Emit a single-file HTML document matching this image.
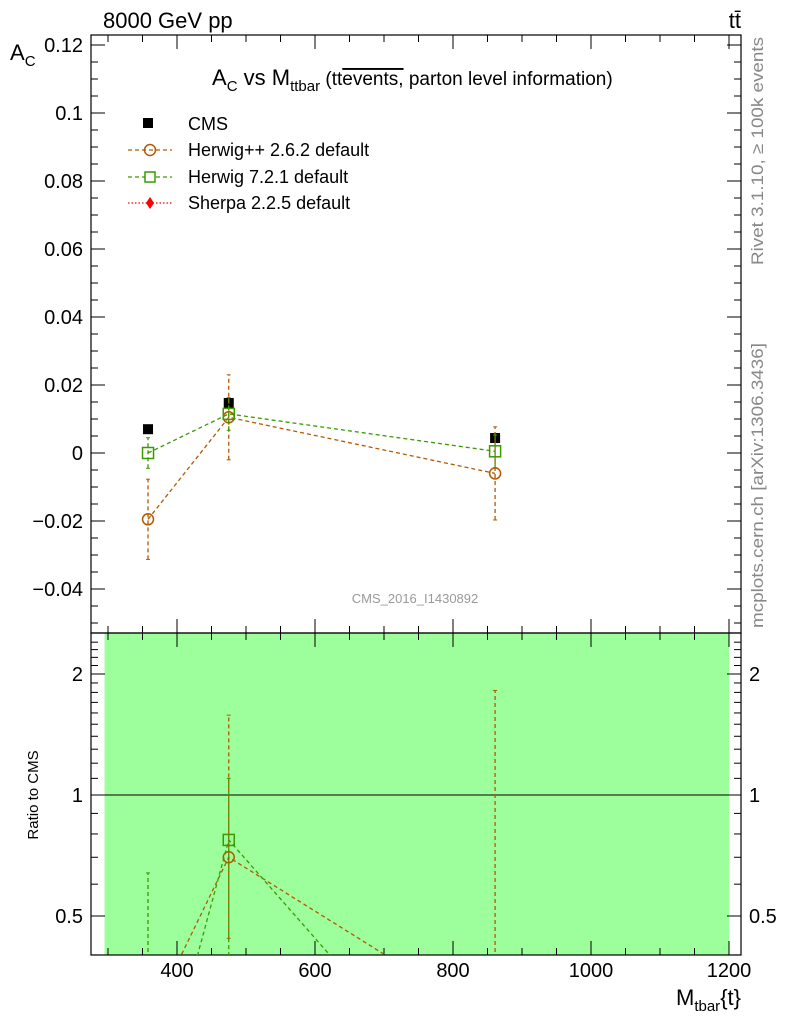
<!DOCTYPE html>
<html><head><meta charset="utf-8"><style>
html,body{margin:0;background:#fff;overflow:hidden;width:786px;height:1024px}
svg{display:block;font-family:"Liberation Sans",sans-serif}
</style></head><body>
<svg id="s" width="786" height="1024" viewBox="0 0 786 1024">
<text x="103" y="28" font-size="22">8000 GeV pp</text>
<text x="741" y="28" font-size="22" text-anchor="end">tt̄</text>
<text x="10" y="60" font-size="22">A<tspan font-size="15" dy="6">C</tspan></text>
<text x="212" y="85" font-size="22">A<tspan font-size="15" dy="6">C</tspan><tspan dy="-6"> vs M</tspan><tspan font-size="15" dy="6">ttbar</tspan><tspan dy="-6" font-size="19"> (tt</tspan><tspan font-size="19" text-decoration="overline">events,</tspan><tspan font-size="19"> parton level information)</tspan></text>
<text x="763" y="265" font-size="17" fill="#888" textLength="228" lengthAdjust="spacingAndGlyphs" transform="rotate(-90 763 265)">Rivet 3.1.10, ≥ 100k events</text>
<text x="763" y="628" font-size="17" fill="#888" textLength="285" lengthAdjust="spacingAndGlyphs" transform="rotate(-90 763 628)">mcplots.cern.ch [arXiv:1306.3436]</text>
<text x="415" y="603" font-size="13" fill="#999" text-anchor="middle">CMS_2016_I1430892</text>
<text x="38" y="795" font-size="15" text-anchor="middle" transform="rotate(-90 38 795)">Ratio to CMS</text>
<text x="741" y="1005" font-size="22" text-anchor="end">M<tspan font-size="15" dy="6">tbar</tspan><tspan dy="-6">{t}</tspan></text>
<g>
<rect x="143" y="118" width="10" height="10" fill="#000"/>
<text x="188" y="130" font-size="18">CMS</text>
<line x1="128" y1="150" x2="172" y2="150" stroke="#b35900" stroke-dasharray="4,3" stroke-width="1.3"/>
<circle cx="150" cy="150" r="5.5" fill="none" stroke="#b35900" stroke-width="1.5"/>
<text x="188" y="156" font-size="18">Herwig++ 2.6.2 default</text>
<line x1="128" y1="177" x2="172" y2="177" stroke="#3a9a00" stroke-dasharray="4,3" stroke-width="1.3"/>
<rect x="145" y="172" width="10" height="10" fill="#fff" stroke="#3a9a00" stroke-width="1.5"/>
<text x="188" y="183" font-size="18">Herwig 7.2.1 default</text>
<line x1="128" y1="203" x2="172" y2="203" stroke="red" stroke-dasharray="1.5,2" stroke-width="1.3"/>
<path d="M150 197 L154 203 L150 209 L146 203Z" fill="red"/>
<text x="188" y="209" font-size="18">Sherpa 2.2.5 default</text>
</g>
<g id="g"></g>
</svg>
<script>
const xVals=[358,475,861];
const cms=[0.0070,0.0147,0.0044];
const cmsErr=[0.0010,0.0012,0.0010];
const hpp=[-0.0195,0.0105,-0.0060];
const hppErr=[0.0118,0.0125,0.0137];
const h7=[0.0000,0.0115,0.0005];
const h7Err=[0.0045,0.0048,0.0048];
const hppRatio=[0.27,0.70,0.27];
const hppRatioLo=[0.1,0.44,0.1];
const hppRatioHi=[0.1,1.58,1.82];
const h7Ratio=[0.14,0.773,0.136];
const h7RatioLo=[0.1,0.3,0.1];
const h7RatioHi=[0.64,1.1,0.1];
const yTicks=[-0.04,-0.02,0,0.02,0.04,0.06,0.08,0.1,0.12];
const yTickLabels=["−0.04","−0.02","0","0.02","0.04","0.06","0.08","0.1","0.12"];
const rTicks=[0.5,1,2];
const xTicks=[400,600,800,1000,1200];
const NS='http://www.w3.org/2000/svg';
const g=document.getElementById('g');
const L=91,R=741,T=35,M=633,B=955;
const X=v=>177+(v-400)*0.69;
const Y=v=>453-v*3400;
const RY=v=>795-Math.log2(v)*121;
function el(t,a,name){const e=document.createElementNS(NS,t);for(const k in a)e.setAttribute(k,a[k]);


g.appendChild(e);return e;}
const cp=el('clipPath',{id:'rc'},'ratio-clip');const cr=document.createElementNS(NS,'rect');
cr.setAttribute('x',L);cr.setAttribute('y',M);cr.setAttribute('width',R-L);cr.setAttribute('height',B-M);cp.appendChild(cr);
const cp2=el('clipPath',{id:'mc'},'main-clip');const cr2=document.createElementNS(NS,'rect');
cr2.setAttribute('x',L);cr2.setAttribute('y',T);cr2.setAttribute('width',R-L);cr2.setAttribute('height',M-T);cp2.appendChild(cr2);
el('rect',{x:X(295),y:M,width:X(1200)-X(295),height:B-M,fill:'#9cff9c'},'cms-uncertainty-band');
el('line',{x1:L,x2:R,y1:RY(1),y2:RY(1),stroke:'#000','stroke-width':1},'ratio-unity-line');
el('rect',{x:L,y:T,width:R-L,height:M-T,fill:'none',stroke:'#000','stroke-width':1.2},'main-frame');
el('rect',{x:L,y:M,width:R-L,height:B-M,fill:'none',stroke:'#000','stroke-width':1.2},'ratio-frame');
for(let v=-0.05;v<=0.1226;v+=0.005){const y=Y(v);if(y<T||y>M)continue;const maj=Math.abs(Math.round(v*50)-v*50)<1e-6;const len=maj?14:7;
el('line',{x1:L,x2:L+len,y1:y,y2:y,stroke:'#000'},'y-tick');el('line',{x1:R,x2:R-len,y1:y,y2:y,stroke:'#000'},'y-tick-right');}
yTicks.forEach((v,i)=>{const t=el('text',{x:L-8,y:Y(v)+7,'font-size':20,'text-anchor':'end'},'y-tick-label');t.textContent=yTickLabels[i];});
for(let v=0.4;v<=2.5;v+=0.1){const y=RY(v);if(y<M||y>B)continue;const maj=rTicks.some(r=>Math.abs(r-v)<1e-6);const len=maj?14:7;
el('line',{x1:L,x2:L+len,y1:y,y2:y,stroke:'#000'},'ratio-tick');el('line',{x1:R,x2:R-len,y1:y,y2:y,stroke:'#000'},'ratio-tick-right');}
rTicks.forEach(v=>{let t=el('text',{x:L-8,y:RY(v)+7,'font-size':20,'text-anchor':'end'},'ratio-tick-label');t.textContent=v;
t=el('text',{x:R+8,y:RY(v)+7,'font-size':20},'ratio-tick-label-right');t.textContent=v;});
for(let v=300;v<=1200;v+=50){const x=X(v);const maj=v%200==0;const len=maj?14:7;
el('line',{x1:x,x2:x,y1:B,y2:B-len,stroke:'#000'},'x-tick');el('line',{x1:x,x2:x,y1:M,y2:M-len,stroke:'#000'},'x-tick-main');
el('line',{x1:x,x2:x,y1:M,y2:M+len,stroke:'#000'},'x-tick-ratio-top');el('line',{x1:x,x2:x,y1:T,y2:T+len,stroke:'#000'},'x-tick-top');}
xTicks.forEach(v=>{const t=el('text',{x:X(v),y:B+22,'font-size':20,'text-anchor':'middle'},'x-tick-label');t.textContent=v;});
function series(vals,errs,col,mark,name,clip,yf,lo,hi){
 const pts=vals.map((v,i)=>X(xVals[i])+','+yf(v)).join(' ');
 el('polyline',{points:pts,fill:'none',stroke:col,'stroke-dasharray':'4,3','stroke-width':1.3,'clip-path':clip},name+'-line');
 vals.forEach((v,i)=>{const x=X(xVals[i]);const y1=lo?yf(lo[i]):yf(v-errs[i]);const y2=hi?yf(hi[i]):yf(v+errs[i]);
  el('line',{x1:x,x2:x,y1:y1,y2:y2,stroke:col,'stroke-dasharray':'4,3','stroke-width':1.3,'clip-path':clip},name+'-errorbar');
  el('line',{x1:x-2,x2:x+2,y1:y1,y2:y1,stroke:col,'clip-path':clip},name+'-errcap');
  el('line',{x1:x-2,x2:x+2,y1:y2,y2:y2,stroke:col,'clip-path':clip},name+'-errcap');
  if(mark=='c')el('circle',{cx:x,cy:yf(v),r:5.5,fill:'none',stroke:col,'stroke-width':1.5,'clip-path':clip},name+'-point');
  else el('rect',{x:x-5.5,y:yf(v)-5.5,width:11,height:11,fill:'none',stroke:col,'stroke-width':1.5,'clip-path':clip},name+'-point');});
}
cms.forEach((v,i)=>{const x=X(xVals[i]);el('rect',{x:x-5,y:Y(v)-5,width:10,height:10,fill:'#000'},'cms-point');
 el('line',{x1:x,x2:x,y1:Y(v-cmsErr[i]),y2:Y(v+cmsErr[i]),stroke:'#000','stroke-width':1.5},'cms-errorbar');});
series(hpp,hppErr,'#b35900','c','herwigpp','url(#mc)',Y);
series(h7,h7Err,'#3a9a00','s','herwig7','url(#mc)',Y);
series(hppRatio,null,'#b35900','c','herwigpp-ratio','url(#rc)',RY,hppRatioLo,hppRatioHi);
series(h7Ratio,null,'#3a9a00','s','herwig7-ratio','url(#rc)',RY,h7RatioLo,h7RatioHi);
</script>
</body></html>
